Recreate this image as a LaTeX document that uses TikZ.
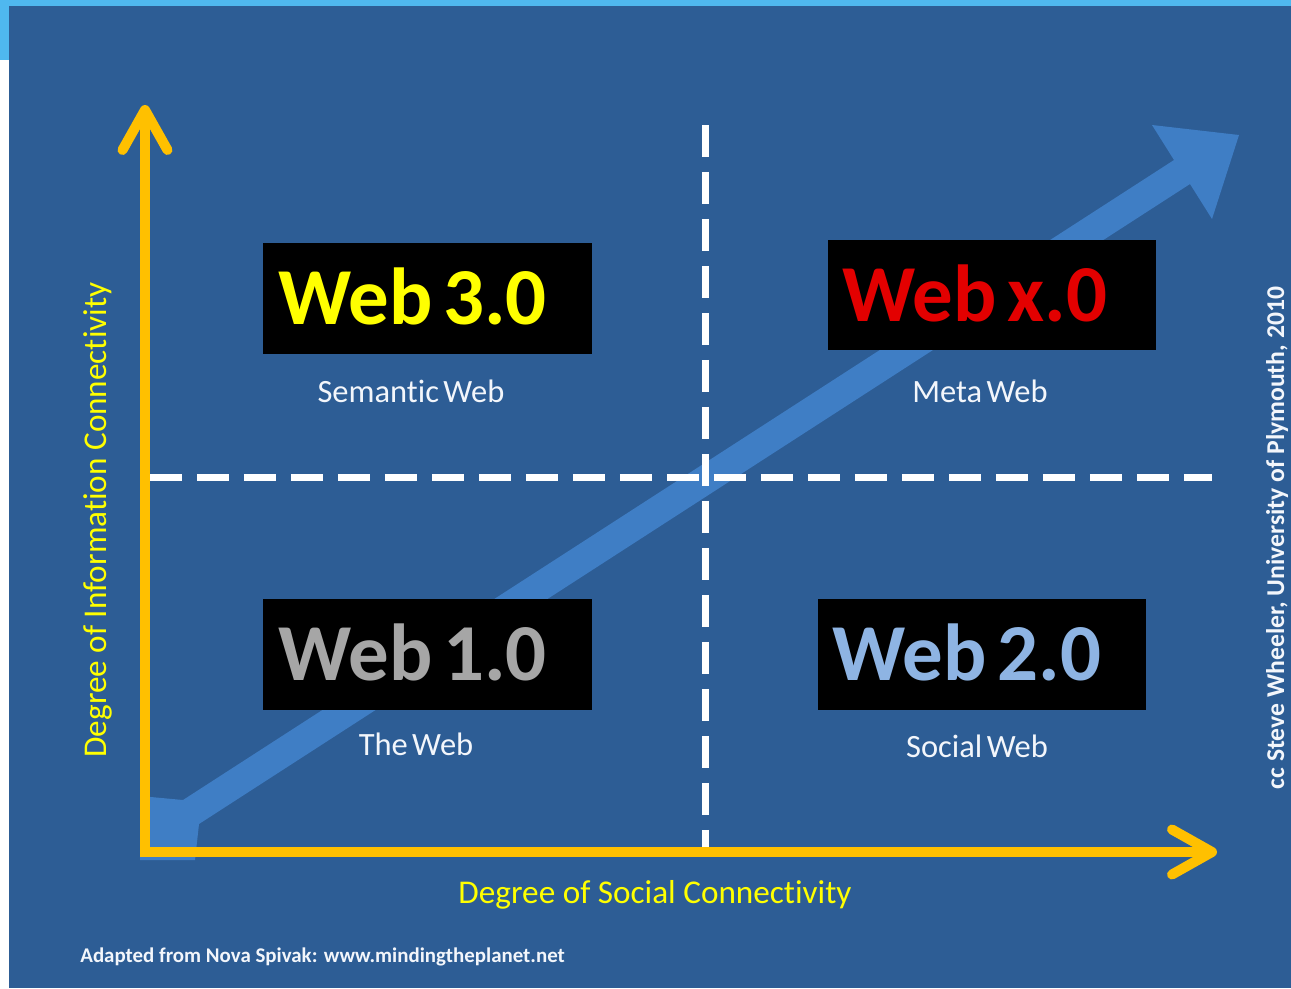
\documentclass[tikz,border=0pt]{standalone}
\usepackage{fontspec}
\setmainfont{Carlito}[Ligatures=NoCommon]
\newfontfamily\tagfont{Carlito}[Ligatures=NoCommon, WordSpace=0.85]
\newfontfamily\subfont{Carlito}[Ligatures=NoCommon, WordSpace=0.6]
\usetikzlibrary{arrows.meta, positioning}

\definecolor{slateblue}{HTML}{2D5D95}
\definecolor{skyblue}{HTML}{4FB8EF}
\definecolor{trendblue}{HTML}{3F7EC5}
\definecolor{axisgold}{HTML}{FFC000}
\definecolor{axisyellow}{HTML}{FFFF00}
\definecolor{webred}{HTML}{E30000}
\definecolor{webgrey}{HTML}{A6A6A6}
\definecolor{webblue}{HTML}{8EB4E3}
\definecolor{softwhite}{HTML}{F3F6FB}

\begin{document}
\begin{tikzpicture}[x=0.02cm, y=-0.02cm,
    tag/.style={fill=black, minimum width=6.58cm, minimum height=2.22cm,
                inner xsep=0.3cm, text width=5.98cm, align=flush left,
                text height=29.6pt, text depth=0pt,
                font=\tagfont\fontsize{46}{50}\selectfont\bfseries},
    sub/.style={text=softwhite, inner sep=0pt, font=\subfont\fontsize{18.5}{22}\selectfont},
    note/.style={text=axisyellow, inner sep=0pt, font=\fontsize{18.9}{22}\selectfont},
    credit/.style={text=softwhite, inner sep=0pt, font=\bfseries},
    axis/.style={draw=axisgold, line width=0.2cm, line join=miter,
                 {Straight Barb[length=0.8cm, width=0.9cm, round]}-{Straight Barb[length=0.8cm, width=0.9cm, round]}},
    divider/.style={draw=white, line width=0.14cm, dash pattern=on 0.64cm off 0.3cm}
  ]
  % page: light strip on top and left, blue panel
  \useasboundingbox (0,0) rectangle (1291,988);
  \fill[white] (0,0) rectangle (1291,988);
  \fill[skyblue] (0,0) rectangle (1291,60);
  \fill[slateblue] (9,6) rectangle (1291,988);

  % trend arrow, lowest layer
  \fill[trendblue] (183,800) -- (1174,160) -- (1152,125) -- (1239,135)
    -- (1212,219) -- (1190,184) -- (199,824) -- (195,860) -- (140,860)
    -- (140,796) -- cycle;

  % quadrant dividers
  \coordinate (vtop) at (705,125);
  \coordinate (vbot) at (705,848);
  \coordinate (hleft) at (150,477);
  \coordinate (hright) at (1212,477);
  \draw[divider] (vtop) -- (vbot);
  \draw[divider] (hleft) -- (hright);

  % axes
  \coordinate (ytip) at (145,105);
  \coordinate (xtip) at (1217,852);
  \draw[axis] (ytip) |- (xtip);

  % quadrants
  \node[tag, text=axisyellow] (web3) at (427.5,298.5) {Web 3.0};
  \node[tag, text=webred] (webx) at (992,295) {Web x.0};
  \node[tag, text=webgrey] (web1) at (427.5,654) {Web 1.0};
  \node[tag, text=webblue] (web2) at (982,654) {Web 2.0};

  \node[sub, below=0.5cm of web3, xshift=-0.33cm] (semantic) {Semantic Web};
  \node[sub, below=0.57cm of webx, xshift=-0.24cm] (meta) {Meta Web};
  \node[sub, below=0.45cm of web1, xshift=-0.23cm] (plain) {The Web};
  \node[sub, below=0.49cm of web2, xshift=-0.1cm] (social) {Social Web};

  % axis titles and credits
  \node[note, anchor=base] (xtitle) at (655,903) {Degree of Social Connectivity};
  \node[note, anchor=base, rotate=90] (ytitle) at (106,520) {Degree of Information Connectivity};
  \node[credit, anchor=base west, font=\fontsize{11.9}{14}\selectfont\bfseries] (source) at (80,962)
    {Adapted from Nova Spivak: www.mindingtheplanet.net};
  \node[credit, anchor=base, rotate=90, font=\fontsize{14.6}{17}\selectfont\bfseries] (author) at (1284,538)
    {cc Steve Wheeler, University of Plymouth, 2010};
\end{tikzpicture}
\end{document}
